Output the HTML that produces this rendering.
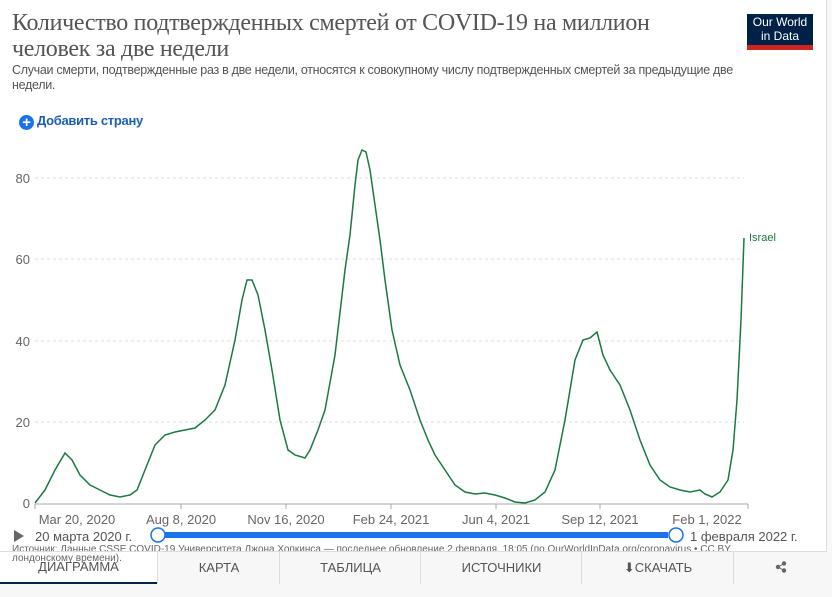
<!DOCTYPE html>
<html><head><meta charset="utf-8"><style>
body{margin:0;width:832px;height:597px;background:#f7f7f7;font-family:"Liberation Sans",sans-serif;overflow:hidden;position:relative}
.card{position:absolute;left:0;top:0;width:826px;height:583px;background:#fff;border-right:1px solid #ddd;border-bottom:1px solid #ddd}
.t{position:absolute;left:12px;top:10px;font-family:"Liberation Serif",serif;font-size:24px;line-height:26px;color:#555;letter-spacing:-0.3px}
.s{position:absolute;left:12px;top:63px;font-size:12.5px;line-height:15px;color:#555;width:740px;letter-spacing:-0.3px}
.logo{position:absolute;left:747px;top:14px;width:66px;background:#002147;color:#fff;font-size:12px;line-height:14px;text-align:center;padding-top:1px;border-bottom:5px solid #ce261e;height:30px}
.add{position:absolute;left:19px;top:113px;font-size:13px;color:#1a5fb4;font-weight:bold;letter-spacing:-0.3px}
.add span{display:inline-block;width:15px;height:15px;border-radius:50%;background:#1a73e8;color:#fff;text-align:center;line-height:15px;font-size:15px;vertical-align:-2px;margin-right:3px}
.tabs{position:absolute;left:0;top:551px;width:826px;height:32px;border-top:1px solid #ddd;font-size:13px;color:#555}
.tab{position:absolute;top:0;height:32px;line-height:32px;text-align:center;border-left:1px solid #ddd;background:#f7f7f7}
</style></head><body><div class="card">
<div class="t">Количество подтвержденных смертей от COVID-19 на миллион<br>человек за две недели</div>
<div class="logo">Our World<br>in Data</div>
<div class="s">Случаи смерти, подтвержденные раз в две недели, относятся к совокупному числу подтвержденных смертей за предыдущие две недели.</div>
<div class="add"><span>+</span>Добавить страну</div>
<svg width="832" height="597" style="position:absolute;left:0;top:0" font-family="Liberation Sans,sans-serif">
<g stroke="#ddd" stroke-dasharray="3,3"><line x1="35" x2="744" y1="422" y2="422"/><line x1="35" x2="744" y1="341" y2="341"/><line x1="35" x2="744" y1="259" y2="259"/><line x1="35" x2="744" y1="178" y2="178"/></g>
<line x1="35" x2="748" y1="504" y2="504" stroke="#aaa"/>
<g stroke="#aaa"><line x1="35" x2="35" y1="504" y2="509"/><line x1="181" x2="181" y1="504" y2="509"/><line x1="286" x2="286" y1="504" y2="509"/><line x1="391" x2="391" y1="504" y2="509"/><line x1="496" x2="496" y1="504" y2="509"/><line x1="600" x2="600" y1="504" y2="509"/><line x1="748" x2="748" y1="504" y2="509"/></g>
<g font-size="13" fill="#666" text-anchor="end"><text x="30" y="508">0</text><text x="30" y="427">20</text><text x="30" y="346">40</text><text x="30" y="264">60</text><text x="30" y="183">80</text></g>
<g font-size="13" fill="#666" text-anchor="middle"><text x="77" y="524">Mar 20, 2020</text><text x="181" y="524">Aug 8, 2020</text><text x="286" y="524">Nov 16, 2020</text><text x="391" y="524">Feb 24, 2021</text><text x="496" y="524">Jun 4, 2021</text><text x="600" y="524">Sep 12, 2021</text><text x="707" y="524">Feb 1, 2022</text></g>
<polyline fill="none" stroke="#1b7a3e" stroke-width="1.5" points="35,503 45,490 55,470 65,453 72,460 80,475 90,485 100,490 110,495 120,497 130,495 137,490 145,470 155,445 165,435 175,432 185,430 195,428 205,420 215,410 225,385 235,340 242,300 247,280 252,280 258,295 265,330 272,370 280,420 288,450 295,455 305,458 310,450 318,430 325,410 335,355 345,270 350,235 355,185 358,160 362,150 366,152 370,170 375,205 380,240 385,280 392,330 400,365 410,390 420,420 428,440 435,455 445,470 455,485 465,492 475,494 485,493 495,495 505,498 515,502 525,503 535,500 545,492 555,470 565,420 575,360 583,340 590,338 597,332 603,355 610,370 620,385 630,410 640,440 650,465 660,480 670,487 680,490 690,492 700,490 705,494 712,497 720,492 728,480 733,450 737,400 741,320 744,238"/>
<text x="749" y="241" font-size="11" fill="#1b7a3e">Israel</text>
<path d="M14 530 L24 536 L14 542Z" fill="#666"/>
<text x="35" y="541" font-size="13" fill="#555">20 марта 2020 г.</text>
<line x1="158" x2="668" y1="535" y2="535" stroke="#1a73e8" stroke-width="6"/>
<circle cx="158" cy="535" r="7" fill="#fff" stroke="#1a73e8" stroke-width="1.5"/>
<circle cx="676" cy="535" r="7" fill="#fff" stroke="#1a73e8" stroke-width="1.5"/>
<text x="690" y="541" font-size="13" fill="#555">1 февраля 2022 г.</text>
<text x="12" y="552" font-size="10" fill="#666">Источник: Данные CSSE COVID-19 Университета Джона Хопкинса — последнее обновление 2 февраля, 18:05 (по   OurWorldInData.org/coronavirus • CC BY</text>
</svg>
<div class="tabs">
<div class="tab" style="left:0;width:157px;border-left:none;background:#fff;border-bottom:2px solid #002147;height:30px;line-height:30px;top:0">ДИАГРАММА</div>
<div class="tab" style="left:157px;width:122px">КАРТА</div>
<div class="tab" style="left:279px;width:141px">ТАБЛИЦА</div>
<div class="tab" style="left:420px;width:161px">ИСТОЧНИКИ</div>
<div class="tab" style="left:581px;width:152px">⬇СКАЧАТЬ</div>
<div class="tab" style="left:733px;width:93px"><svg width="12" height="12" viewBox="0 0 12 12" style="vertical-align:-1px"><circle cx="9" cy="2.5" r="2.2" fill="#666"/><circle cx="3" cy="6" r="2.2" fill="#666"/><circle cx="9" cy="9.5" r="2.2" fill="#666"/><path d="M9 2.5L3 6L9 9.5" stroke="#666" fill="none"/></svg></div>
</div>
<div style="position:absolute;left:12px;top:553px;font-size:10px;color:#666">лондонскому времени).</div>
</div></body></html>
